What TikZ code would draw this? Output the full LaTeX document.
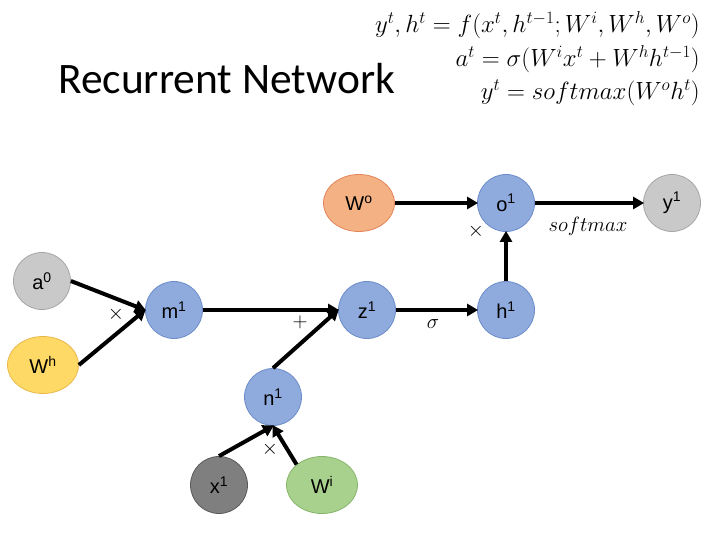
\documentclass[tikz,border=0pt]{standalone}
\usepackage{amsmath}
\usepackage{fontspec}
\setmainfont{Liberation Sans}
\newfontfamily\titlefont{Carlito}
\usetikzlibrary{arrows.meta,shapes.geometric}
\definecolor{bluefill}{HTML}{8FAADC}
\definecolor{blueline}{HTML}{6C8CC9}
\definecolor{grayfill}{HTML}{C9C9C9}
\definecolor{grayline}{HTML}{A5A5A5}
\definecolor{darkfill}{HTML}{7F7F7F}
\definecolor{darkline}{HTML}{595959}
\definecolor{yelfill}{HTML}{FFD966}
\definecolor{yelline}{HTML}{E8B84A}
\definecolor{orfill}{HTML}{F4B183}
\definecolor{orline}{HTML}{E5845A}
\definecolor{grnfill}{HTML}{A9D18E}
\definecolor{grnline}{HTML}{86B56A}
\tikzset{
  nd/.style={circle,minimum size=57pt,inner sep=0pt,line width=0.8pt,font=\fontsize{20}{22}\selectfont},
  ell/.style={ellipse,minimum width=71pt,minimum height=57pt,inner sep=0pt,line width=0.8pt,font=\fontsize{20}{22}\selectfont},
  bluen/.style={nd,fill=bluefill,draw=blueline},
  conn/.style={line width=4pt,-{Triangle[length=11pt,width=12pt]},shorten >=-1pt},
  op/.style={font=\fontsize{20}{22}\selectfont},
  eq/.style={anchor=base east,inner sep=0pt,font=\fontsize{26.5}{30}\selectfont}
}
\begin{document}
\begin{tikzpicture}[x=1pt,y=-1pt]
\useasboundingbox (0,0) rectangle (720,540);
\node[anchor=base west,inner sep=0pt,font=\titlefont\fontsize{43.5}{46}\selectfont] (title) at (58,94) {Recurrent Network};
\node[eq] (eq1) at (700,33) {$y^t,h^t=f(x^t,h^{t-1};W^i,W^h,W^o)$};
\node[eq] (eq2) at (700,67) {$a^t=\sigma(W^ix^t+W^hh^{t-1})$};
\node[eq] (eq3) at (700,100) {$y^t=softmax(W^oh^t)$};
\node[nd,fill=grayfill,draw=grayline] (a0) at (42,281) {a\textsuperscript{0}};
\node[ell,fill=yelfill,draw=yelline] (wh) at (43,365) {W\textsuperscript{h}};
\node[bluen] (m1) at (174,310) {m\textsuperscript{1}};
\node[bluen] (z1) at (367,310) {z\textsuperscript{1}};
\node[bluen] (h1) at (506,310) {h\textsuperscript{1}};
\node[bluen] (o1) at (506,203) {o\textsuperscript{1}};
\node[nd,fill=grayfill,draw=grayline] (y1) at (672,203) {y\textsuperscript{1}};
\node[ell,fill=orfill,draw=orline] (wo) at (359,203) {W\textsuperscript{o}};
\node[bluen] (n1) at (273,397) {n\textsuperscript{1}};
\node[nd,fill=darkfill,draw=darkline] (x1) at (219,485) {x\textsuperscript{1}};
\node[ell,fill=grnfill,draw=grnline] (wi) at (322,485) {W\textsuperscript{i}};
\draw[conn] (a0.east) -- (m1.west);
\draw[conn] (wh.east) -- (m1.west);
\draw[conn] (m1) -- (z1);
\draw[conn] (n1.north) -- (z1.west);
\draw[conn] (z1) -- (h1);
\draw[conn] (h1) -- (o1);
\draw[conn] (wo) -- (o1);
\draw[conn] (o1) -- (y1);
\draw[conn] (x1.north) -- (n1.south);
\draw[conn] (wi.north west) -- (n1.south);
\node[op] (t1) at (116,314) {$\times$};
\node[op] (p1) at (300,322) {$+$};
\node[op] (s1) at (433,324) {$\sigma$};
\node[op] (t2) at (476,231) {$\times$};
\node[op,font=\fontsize{22}{24}\selectfont] (sm) at (588,226) {$softmax$};
\node[op] (t3) at (270,449) {$\times$};
\end{tikzpicture}
\end{document}
